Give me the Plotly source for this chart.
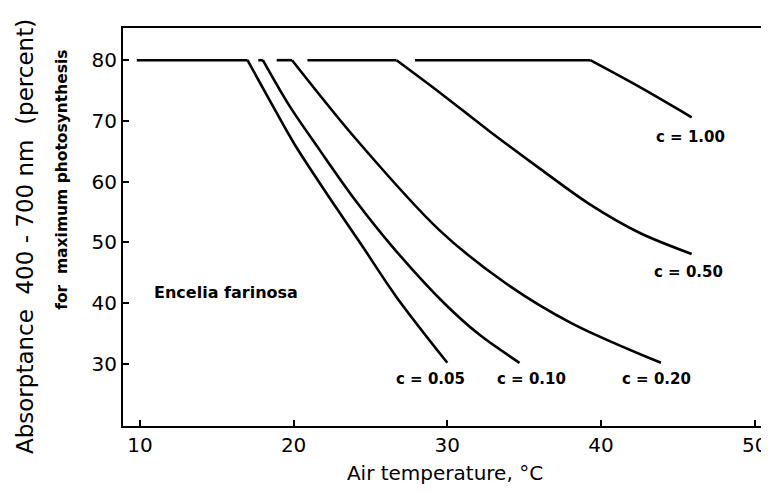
import plotly.graph_objects as go

# Air temperature (°C) and absorptance (%)
c005_x = [9.8, 17.0, 18.4, 20.1, 22.3, 24.5, 26.7, 30.0]
c005_y = [80, 80, 73.6, 66.0, 57.5, 49.3, 41.0, 30.2]

c010_x = [17.7, 18.0, 19.7, 21.7, 24.0, 26.6, 29.8, 32.1, 34.7]
c010_y = [80, 80, 72.6, 65.2, 57.0, 48.8, 40.0, 34.8, 30.2]

c020_x = [18.9, 19.9, 24.0, 29.5, 33.8, 38.1, 43.9]
c020_y = [80, 80, 67.2, 52.0, 43.3, 36.7, 30.2]

c050_x = [20.9, 26.7, 29.5, 32.7, 36.0, 39.2, 42.5, 45.9]
c050_y = [80, 80, 74.7, 68.4, 62.2, 56.4, 51.6, 48.1]

c100_x = [27.9, 39.3, 42.5, 45.9]
c100_y = [80, 80, 75.6, 70.6]

curve_labels = ["c = 0.05", "c = 0.10", "c = 0.20", "c = 0.50", "c = 1.00"]
label_x = [28.9, 35.5, 43.6, 45.7, 45.8]
label_y = [27.5, 27.5, 27.5, 45.1, 67.3]

x_ticks = [10, 20, 30, 40, 50]
y_ticks = [30, 40, 50, 60, 70, 80]

FONT = "DejaVu Sans"
LW = 2.6

fig = go.Figure()
for xs, ys in [(c005_x, c005_y), (c010_x, c010_y), (c020_x, c020_y),
               (c050_x, c050_y), (c100_x, c100_y)]:
    # flat plateau at the maximum
    fig.add_trace(go.Scatter(x=xs[:2], y=ys[:2], mode="lines",
                             line=dict(color="black", width=LW),
                             showlegend=False, hoverinfo="skip"))
    # descending branch
    fig.add_trace(go.Scatter(x=xs[1:], y=ys[1:], mode="lines",
                             line=dict(color="black", width=LW, shape="spline", smoothing=0.9),
                             showlegend=False, hoverinfo="skip"))

for t, lx, ly in zip(curve_labels, label_x, label_y):
    fig.add_annotation(x=lx, y=ly, text=t, showarrow=False,
                       font=dict(family=FONT, size=15, color="black", weight="bold"))

fig.add_annotation(x=15.6, y=41.7, text="Encelia farinosa", showarrow=False,
                   font=dict(family=FONT, size=16, color="black", weight="bold"))

# Y axis titles (two lines, separately placed)
fig.add_annotation(xref="paper", yref="paper", x=-0.152, y=0.475,
                   text="Absorptance  400 - 700 nm  (percent)", textangle=-90,
                   showarrow=False, xanchor="center", yanchor="middle",
                   font=dict(family=FONT, size=23, color="black"))
fig.add_annotation(xref="paper", yref="paper", x=-0.095, y=0.618,
                   text="for  maximum photosynthesis", textangle=-90,
                   showarrow=False, xanchor="center", yanchor="middle",
                   font=dict(family=FONT, size=15.5, color="black", weight="bold"))

# page body has an 8px margin; the figure is sized so it fills the 769x491 window
fig.update_layout(
    width=761, height=483,
    margin=dict(l=115, r=2, t=20, b=65),
    plot_bgcolor="white", paper_bgcolor="white",
    font=dict(family=FONT, color="black"),
    xaxis=dict(range=[8.9, 50.8], tickvals=x_ticks, ticks="inside", ticklen=6,
               tickwidth=1.5, tickcolor="black", showgrid=False, zeroline=False,
               showline=True, linecolor="black", linewidth=2, mirror=True,
               automargin=False,
               tickfont=dict(family=FONT, size=20, color="black"),
               title=dict(text="Air temperature, °C", standoff=10,
                          font=dict(family=FONT, size=20, color="black"))),
    yaxis=dict(range=[19.8, 85.3], tickvals=y_ticks, ticks="inside", ticklen=6,
               tickwidth=1.5, tickcolor="black", showgrid=False, zeroline=False,
               showline=True, linecolor="black", linewidth=2, mirror="ticks",
               automargin=False,
               tickfont=dict(family=FONT, size=20, color="black")),
)

fig.write_html("out.html")
